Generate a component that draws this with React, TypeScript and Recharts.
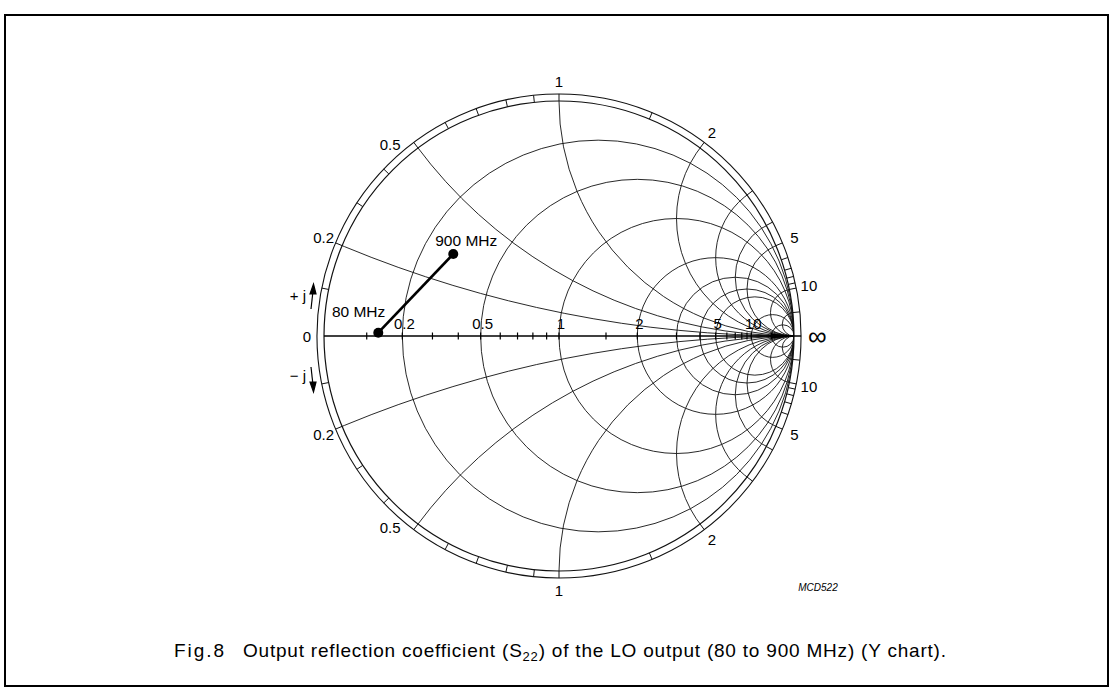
import React from 'react';
import { ScatterChart, Scatter, XAxis, YAxis, ReferenceArea } from 'recharts';

const frequencies = ['80 MHz', '900 MHz'];
const s22Real = [-0.769, -0.45];
const s22Imag = [0.014, 0.349];

// normalised values of the drawn grid circles / arcs
const gridValues = [0.2, 0.5, 1, 2, 3, 4, 5, 10, 20];
// small graduation marks on the axis and the outer ring
const tickValues = [0.1, 0.2, 0.3, 0.4, 0.5, 0.6, 0.7, 0.8, 0.9, 1, 1.5, 2, 3, 4, 5, 6, 7, 8, 9, 10, 20];
const axisLabels = [0.2, 0.5, 1, 2, 5, 10];
const rimLabels = [0.2, 0.5, 1, 2, 5, 10];

const data = frequencies.map((f, i) => ({ label: f, re: s22Real[i], im: s22Imag[i] }));

const W = 1116;
const H = 688;
// where the unit circle sits in the picture
const CX = 559;
const CY = 336;
const RAD = 235;

const FONT = '"Liberation Sans", Arial, sans-serif';
const INK = '#111';

const SmithGrid = (props: any) => {
  const { x, y, width, height } = props;
  const R = width / 2;
  const cx = x + R;
  const cy = y + height / 2;
  const ring = R * 1.03;
  const rPos = (r: number) => cx + (R * (r - 1)) / (r + 1);
  const rimAngle = (v: number) => Math.PI - 2 * Math.atan(v);
  const polar = (t: number, s: number, d: number) => [cx + d * Math.cos(t), cy - s * d * Math.sin(t)];

  return (
    <g>
      <defs>
        <clipPath id="smithClip">
          <circle cx={cx} cy={cy} r={R} />
        </clipPath>
      </defs>
      {/* frame */}
      <rect x={5} y={15} width={1103} height={671} fill="none" stroke="#000" strokeWidth={2} />

      <g clipPath="url(#smithClip)" fill="none" stroke={INK} strokeWidth={0.9}>
        {gridValues.map((r) => (
          <circle key={'r' + r} cx={cx + (R * r) / (r + 1)} cy={cy} r={R / (r + 1)} />
        ))}
        {gridValues.map((v) =>
          [1, -1].map((s) => (
            <circle key={'x' + v + s} cx={cx + R} cy={cy - (s * R) / v} r={R / v} />
          ))
        )}
      </g>
      <circle cx={cx} cy={cy} r={R} fill="none" stroke={INK} strokeWidth={1.2} />
      <circle cx={cx} cy={cy} r={ring} fill="none" stroke={INK} strokeWidth={1.1} />

      {/* real axis */}
      <line x1={cx - R} y1={cy} x2={cx + ring} y2={cy} stroke="#000" strokeWidth={1.6} />
      <path d={`M${cx + R * 0.9},${cy - 2.5} L${cx + R},${cy} L${cx + R * 0.9},${cy + 2.5} Z`} fill="#000" />
      {tickValues.map((t) => (
        <line key={'at' + t} x1={rPos(t)} y1={cy - 3.5} x2={rPos(t)} y2={cy + 3.5} stroke="#000" strokeWidth={1.2} />
      ))}
      {tickValues.map((t) =>
        [1, -1].map((s) => {
          const [x1, y1] = polar(rimAngle(t), s, R);
          const [x2, y2] = polar(rimAngle(t), s, ring);
          return <line key={'rt' + t + s} x1={x1} y1={y1} x2={x2} y2={y2} stroke={INK} strokeWidth={1} />;
        })
      )}

      <g fontFamily={FONT} fontSize={15} fill="#000">
        {axisLabels.map((v) => (
          <text key={'al' + v} x={rPos(v) + 2} y={cy - 7} textAnchor="middle">
            {v}
          </text>
        ))}
        {rimLabels.map((v) =>
          [1, -1].map((s) => {
            const nudge = v === 0.5 ? 0.08 : 0;
            const [lx, ly] = polar(rimAngle(v) + nudge, s, R * 1.085);
            return (
              <text key={'rl' + v + s} x={lx} y={ly} textAnchor="middle" dominantBaseline="central">
                {v}
              </text>
            );
          })
        )}
        <text x={cx - R - 13} y={cy + 6} textAnchor="end">0</text>
        <text x={cx + ring + 7} y={cy} dominantBaseline="central" fontSize={26}>∞</text>
        <text x={306} y={301} textAnchor="end">+ j</text>
        <text x={306} y={381} textAnchor="end">− j</text>
        <text x={818} y={591} textAnchor="middle" fontSize={10} fontStyle="italic">MCD522</text>
        <text x={174} y={657} fontSize={19} textLength={50}>Fig.8</text>
        <text x={243} y={657} fontSize={19} textLength={703}>
          Output reflection coefficient (S
          <tspan fontSize={13} dy={4}>22</tspan>
          <tspan dy={-4}>) of the LO output (80 to 900 MHz) (Y chart).</tspan>
        </text>
      </g>
      {/* ±j direction arrows */}
      <g stroke="#000" strokeWidth={1.2} fill="#000">
        <path d="M311,309 Q312,300 313,291" fill="none" />
        <path d="M310,294 L313.5,284 L316,294 Z" />
        <path d="M311,367 Q312,376 313,385" fill="none" />
        <path d="M310,382 L313.5,392 L316,382 Z" />
      </g>
    </g>
  );
};

const TracePoint = (props: any) => {
  const { cx, cy, payload } = props;
  const first = payload.label === frequencies[0];
  return (
    <g>
      <circle cx={cx} cy={cy} r={5} fill="#000" />
      <text
        x={first ? cx + 7 : cx - 18}
        y={first ? cy - 16 : cy - 8}
        textAnchor={first ? 'end' : 'start'}
        fontFamily={FONT}
        fontSize={15.5}
        fill="#000"
      >
        {payload.label}
      </text>
    </g>
  );
};

export default function App() {
  return (
    <div style={{ position: 'absolute', left: 0, top: 0, width: W, height: H, background: '#fff' }}>
      <ScatterChart width={W} height={H} margin={{ top: 0, right: 0, bottom: 0, left: 0 }}>
        <XAxis
          type="number"
          dataKey="re"
          hide
          domain={[-CX / RAD, (W - CX) / RAD]}
          allowDataOverflow
        />
        <YAxis
          type="number"
          dataKey="im"
          hide
          domain={[-(H - CY) / RAD, CY / RAD]}
          allowDataOverflow
        />
        <ReferenceArea x1={-1} x2={1} y1={-1} y2={1} ifOverflow="visible" shape={(p: any) => <SmithGrid {...p} />} />
        <Scatter
          data={data}
          fill="#000"
          line={{ stroke: '#000', strokeWidth: 2.6 }}
          shape={(p: any) => <TracePoint {...p} />}
          isAnimationActive={false}
        />
      </ScatterChart>
    </div>
  );
}
